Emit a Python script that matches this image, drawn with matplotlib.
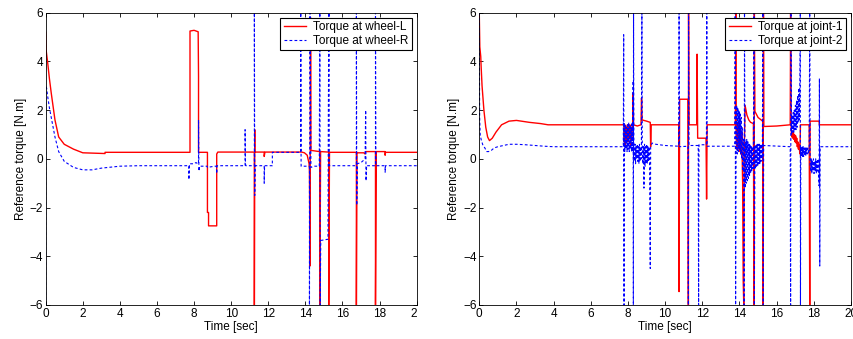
import matplotlib
matplotlib.use('Agg')
import matplotlib.pyplot as plt
from matplotlib.patches import Rectangle

plt.rcParams['font.family'] = ['Liberation Sans', 'DejaVu Sans']
plt.rcParams['font.size'] = 8

# (time, torque) breakpoints
wheel_l = [(0, 5.2), (0.02, 4.5), (0.05, 4.3), (0.1, 4.0), (0.2, 3.3), (0.3, 2.7), (0.5, 1.6),
           (0.7, 0.9), (1.0, 0.6), (1.5, 0.4), (2.0, 0.25), (3.2, 0.22), (3.2, 0.27), (7.78, 0.27),
           (7.78, 5.25), (8.0, 5.28), (8.22, 5.22), (8.24, 3.4), (8.24, 0.27), (8.3, 0.27),
           (8.72, 0.27), (8.72, -2.2), (8.78, -2.2), (8.78, -2.75), (9.22, -2.75), (9.22, 0.2),
           (9.28, 0.28), (11.25, 0.28), (11.25, -6), (11.27, 1.2), (11.27, 0.28), (11.78, 0.28),
           (11.78, 0.1), (11.82, 0.28), (13.8, 0.28), (13.95, 0.25), (14.1, 0.15), (14.2, -0.2),
           (14.22, -0.5), (14.25, -4.4), (14.28, 5.8), (14.3, 0.35), (14.75, 0.3), (14.78, 0.3),
           (14.78, -6), (14.82, 0.3), (15.24, 0.28), (15.26, 0.3), (15.26, -6), (15.3, 0.27),
           (16.75, 0.27), (16.75, -6), (16.78, 0.25), (17.15, 0.25), (17.22, 0.2), (17.25, 0.3),
           (17.78, 0.3), (17.78, -6), (17.82, 0.3), (18.3, 0.3), (18.3, 0.15), (18.32, 0.27),
           (20, 0.27)]

wheel_r = [(0, -6), (0, 3.0), (0.05, 2.9), (0.1, 2.6), (0.2, 2.1), (0.3, 1.7), (0.5, 0.9),
           (0.7, 0.3), (1.0, -0.1), (1.5, -0.35), (2.0, -0.45), (2.5, -0.45), (3.0, -0.38),
           (4.0, -0.3), (5.0, -0.28), (7.72, -0.28), (7.72, -0.85), (7.75, -0.2), (8.0, -0.2),
           (8.1, -0.15), (8.2, -0.2), (8.24, -0.2), (8.24, 1.6), (8.26, -0.5), (8.3, -0.3),
           (8.7, -0.3), (8.72, -0.35), (9.1, -0.3), (9.2, -0.3), (9.22, -0.6), (9.24, -0.28),
           (10.75, -0.28), (10.75, 1.2), (10.77, -0.2), (10.79, -0.28), (11.25, -0.28), (11.25, 6),
           (11.27, -1.5), (11.29, -0.28), (11.78, -0.28), (11.78, -1.0), (11.8, -0.28),
           (12.22, -0.28), (12.22, 0.27), (13.75, 0.27), (13.75, 6), (13.77, -0.3), (14.22, -0.3),
           (14.22, -6), (14.25, 6), (14.3, -0.35), (14.5, -0.3), (14.75, -0.3), (14.78, 6),
           (14.8, -6), (14.83, -3.35), (15.22, -3.3), (15.24, 2.0), (15.27, 6), (15.29, -0.28),
           (16.75, -0.28), (16.75, 6), (16.77, -1.9), (16.8, -0.2), (17.0, -0.15), (17.15, -0.05),
           (17.22, 0.0), (17.25, 2.0), (17.27, -0.9), (17.3, -0.28), (17.78, -0.28), (17.78, 6),
           (17.8, -0.28), (18.3, -0.28), (18.3, -0.55), (18.32, -0.28), (20, -0.28)]

joint_1 = [(0, 6), (0.03, 4.6), (0.08, 4.2), (0.1, 3.8), (0.15, 3.0), (0.25, 2.0), (0.35, 1.3),
           (0.45, 0.9), (0.55, 0.75), (0.7, 0.85), (0.9, 1.1), (1.2, 1.4), (1.6, 1.55), (2.0, 1.58),
           (2.7, 1.5), (3.3, 1.45), (3.7, 1.4), (7.78, 1.4), (7.8, 0.7), (7.83, 1.4), (7.86, 0.6),
           (7.9, 1.3), (7.93, 0.8), (7.97, 1.4), (8.0, 0.7), (8.04, 1.3), (8.07, 0.9), (8.1, 1.4),
           (8.14, 0.6), (8.17, 1.3), (8.2, 0.9), (8.25, 1.4),
           (8.28, 2.7), (8.3, 1.4), (8.5, 1.35), (8.7, 1.4), (8.73, 2.5), (8.76, 1.6), (9.0, 1.55),
           (9.2, 1.5), (9.22, 0.5), (9.25, 1.4), (10.73, 1.4), (10.75, -5.45), (10.78, 2.45),
           (11.23, 2.45), (11.25, -6), (11.26, 6), (11.28, 1.4), (11.7, 1.4), (11.72, 4.3),
           (11.75, 0.85), (12.2, 0.85), (12.23, -1.65), (12.26, 1.4), (13.78, 1.4), (13.8, 6),
           (13.82, 1.0), (13.85, 0.4), (13.88, 1.5), (13.91, 0.5), (13.94, 1.4), (13.97, 0.4),
           (14.0, 1.3), (14.03, 0.3), (14.06, 1.2), (14.09, 0.2), (14.12, 1.1), (14.17, -1.0),
           (14.2, -5.0), (14.23, -6), (14.26, 0.5), (14.3, 2.2),
           (14.4, 1.8), (14.5, 1.6), (14.6, 1.5), (14.75, 1.45), (14.78, -6), (14.8, 6),
           (14.83, 1.95), (15.0, 1.7), (15.25, 1.55), (15.27, -6), (15.29, 6), (15.31, 1.33),
           (16.0, 1.35), (16.73, 1.4), (16.75, 6), (16.78, 1.2), (16.81, 0.9), (16.84, 1.15),
           (16.87, 0.85), (16.9, 1.1), (16.93, 0.8), (16.96, 1.0), (16.99, 0.7), (17.02, 0.95),
           (17.05, 0.65), (17.08, 0.85), (17.11, 0.5), (17.14, 0.7), (17.17, 0.4), (17.2, 0.6),
           (17.25, 0.2), (17.28, 1.4), (17.75, 1.4), (17.78, -6), (17.8, 1.55), (18.28, 1.55),
           (18.3, 1.4), (20, 1.4)]

joint_2 = [(0, 6), (0.02, 1.7), (0.05, 1.0), (0.1, 0.8), (0.2, 0.55), (0.3, 0.45), (0.4, 0.3),
           (0.5, 0.3), (0.65, 0.35), (0.8, 0.45), (1.0, 0.5), (1.3, 0.55), (1.6, 0.6), (2.0, 0.6),
           (2.5, 0.58), (3.0, 0.55), (3.5, 0.52), (4.0, 0.5), (7.75, 0.5), (7.77, 5.1), (7.79, -6),
           (7.8, 1.5), (7.83, 0.3), (7.86, 1.4), (7.89, 0.4), (7.92, 1.3), (7.95, 0.3), (7.98, 1.4),
           (8.01, 0.4), (8.04, 1.5), (8.07, 0.3), (8.1, 1.4), (8.13, 0.4), (8.16, 1.3), (8.19, 0.3),
           (8.22, 1.5), (8.25, 0.3), (8.28, 3.2), (8.29, -6), (8.3, 6), (8.32, 0.4),
           (8.35, -0.1), (8.38, 0.6), (8.41, -0.2), (8.44, 0.5), (8.47, 0.0), (8.5, 0.6),
           (8.53, -0.1), (8.56, 0.5), (8.59, -0.2), (8.62, 0.6), (8.65, -0.1), (8.68, 0.5),
           (8.72, 0.0), (8.75, 6), (8.77, 0.4), (8.8, -0.2), (8.83, 0.5), (8.86, -1.2),
           (8.89, 0.6), (8.92, -0.3), (8.95, 0.5), (8.98, -0.2), (9.01, 0.6), (9.04, -0.2),
           (9.07, 0.5), (9.1, -0.1), (9.13, 0.5), (9.16, 0.0), (9.2, -4.5),
           (9.22, 0.5), (9.3, 0.65), (9.5, 0.6), (10.0, 0.55), (10.73, 0.52), (10.75, 6),
           (10.77, 0.5), (11.23, 0.52), (11.25, -6), (11.26, 6), (11.28, 0.55), (11.78, 0.55),
           (11.8, -6), (11.82, 0.58), (12.22, 0.58), (12.24, 6), (12.26, 0.52), (13.75, 0.52),
           (13.77, 6), (13.79, -6), (13.82, 0.8), (13.85, 2.2), (13.88, 0.2), (13.91, 2.1),
           (13.94, 0.3), (13.97, 2.0), (14.0, 0.4), (14.03, 1.9), (14.06, 0.2), (14.09, 1.7),
           (14.12, 0.0), (14.15, 1.3), (14.18, -0.5), (14.22, 0.8), (14.25, -6),
           (14.27, 6), (14.3, -1.2), (14.33, 0.7), (14.36, -1.0), (14.39, 0.8), (14.42, -0.9),
           (14.45, 0.7), (14.48, -0.8), (14.51, 0.6), (14.54, -0.7), (14.57, 0.6), (14.6, -0.6),
           (14.63, 0.5), (14.66, -0.5), (14.69, 0.5), (14.72, -0.4), (14.75, 0.3), (14.78, 6),
           (14.8, -6), (14.83, 0.5), (14.86, -0.4), (14.89, 0.6), (14.92, -0.3), (14.95, 0.6),
           (14.98, -0.3), (15.01, 0.6), (15.04, -0.2), (15.07, 0.6), (15.1, -0.2), (15.13, 0.6),
           (15.16, -0.1), (15.19, 0.6), (15.23, 0.0), (15.26, 6), (15.28, -6),
           (15.3, 0.55), (16.73, 0.5), (16.75, -6), (16.77, 6), (16.8, 1.0), (16.83, 1.8),
           (16.86, 1.1), (16.89, 1.9), (16.92, 1.1), (16.95, 2.0), (16.98, 1.2), (17.01, 2.2),
           (17.04, 1.2), (17.07, 2.4), (17.1, 1.3), (17.13, 2.6), (17.16, 1.5), (17.19, 2.9),
           (17.22, 1.6), (17.25, 3.3), (17.27, 6), (17.28, -6), (17.3, 0.5), (17.33, 0.1),
           (17.36, 0.5), (17.39, 0.1), (17.42, 0.5), (17.45, 0.1), (17.48, 0.45), (17.51, 0.15),
           (17.54, 0.45), (17.57, 0.15), (17.6, 0.45), (17.64, 0.2), (17.68, 0.45), (17.72, 0.2),
           (17.75, 0.4), (17.78, 6), (17.8, -0.2), (17.83, -0.5), (17.86, 0.0), (17.89, -0.6),
           (17.92, -0.05), (17.95, -0.5), (17.98, 0.0), (18.01, -0.6), (18.04, -0.1),
           (18.07, -0.5), (18.1, 0.0), (18.13, -0.6), (18.16, -0.1), (18.19, -0.5), (18.22, 0.0),
           (18.25, -0.5), (18.28, -1.1), (18.3, 3.3), (18.32, -4.4), (18.34, 0.5), (20, 0.5)]

x_ticks = list(range(0, 21, 2))
y_ticks = list(range(-6, 7, 2))


def draw_panel(ax, red, blue, labels):
    ax.plot([p[0] for p in red], [p[1] for p in red], color='#ff0000', lw=1.0, label=labels[0])
    ax.plot([p[0] for p in blue], [p[1] for p in blue], color='#0000ff', lw=0.8,
            linestyle=(0, (2.5, 2)), label=labels[1])
    ax.set_xlim(0, 20)
    ax.set_ylim(-6, 6)
    ax.set_xticks(x_ticks)
    ax.set_yticks(y_ticks)
    ax.tick_params(direction='in', top=True, right=True, length=3, width=0.6, pad=2,
                   labelsize=8.5)
    for s in ax.spines.values():
        s.set_linewidth(0.6)
    ax.set_xlabel('Time [sec]', labelpad=1, fontsize=8.5)
    ax.set_ylabel('Reference torque [N.m]', labelpad=2, fontsize=8.5)
    leg = ax.legend(loc='upper right', fancybox=False, framealpha=1, edgecolor='black',
                    borderaxespad=0.4, handlelength=1.9, handletextpad=0.6, borderpad=0.3,
                    labelspacing=0.15, fontsize=8.5)
    leg.get_frame().set_linewidth(0.8)


fig = plt.figure(figsize=(8.54, 3.39), dpi=100)
ax1 = fig.add_axes([0.0535, 0.1003, 0.4344, 0.862])
ax2 = fig.add_axes([0.5612, 0.1003, 0.4353, 0.862])

draw_panel(ax1, wheel_l, wheel_r, ['Torque at wheel-L', 'Torque at wheel-R'])
draw_panel(ax2, joint_1, joint_2, ['Torque at joint-1', 'Torque at joint-2'])

# the left picture was cropped just after the "2" of its last tick label
fig.add_artist(Rectangle((417.5 / 854, 0), 9 / 854, 0.097, transform=fig.transFigure,
                         facecolor='white', edgecolor='none', zorder=10))

fig.savefig('out.png', dpi=100)
